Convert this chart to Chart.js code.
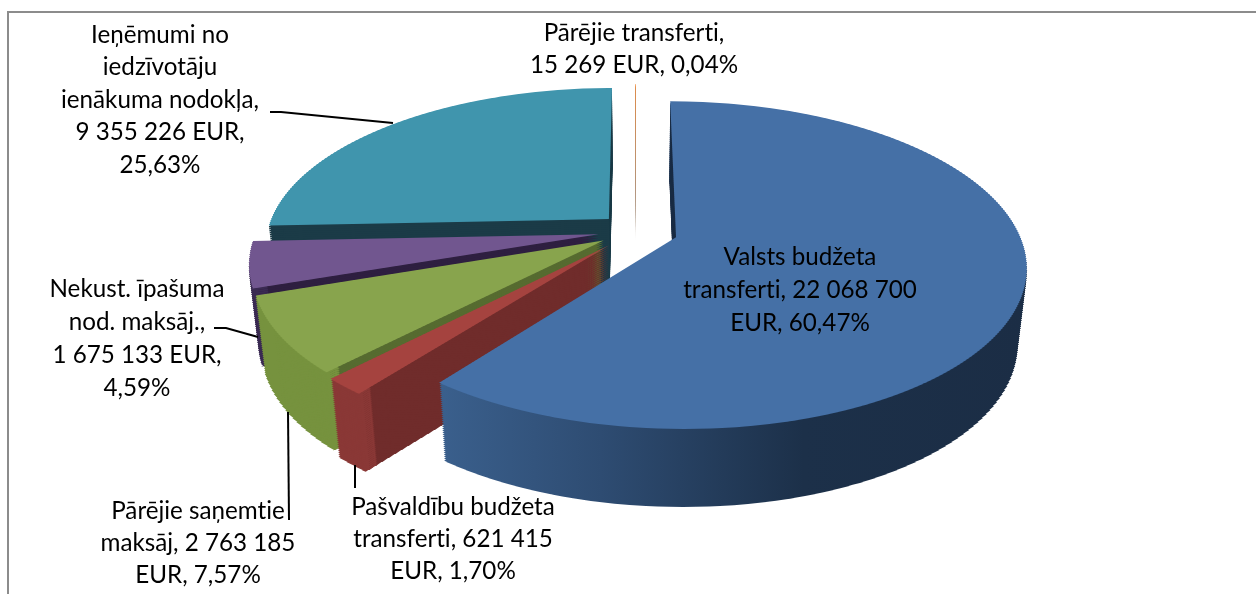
<!DOCTYPE html>
<html>
<head>
<meta charset="utf-8">
<style>
  html, body { margin: 0; background: #fff; }
  #wrap { position: relative; width: 1256px; height: 594px; overflow: hidden; }
  #frame { position: absolute; left: 7px; top: 11px; right: -4px; bottom: -4px; border: 2px solid #8c8c8c; }
  canvas { position: absolute; left: 0; top: 0; }
</style>
</head>
<body>
<div id="wrap">
  <div id="frame"></div>
  <canvas id="pie" width="1256" height="594"></canvas>
</div>
<script src="https://cdn.jsdelivr.net/npm/chart.js@4"></script>
<script>
const categories = ['Valsts budžeta transferti', 'Pašvaldību budžeta transferti', 'Pārējie saņemtie maksāj', 'Nekust. īpašuma nod. maksāj.', 'Ieņēmumi no iedzīvotāju ienākuma nodokļa', 'Pārējie transferti'];
const values = [22068700, 621415, 2763185, 1675133, 9355226, 15269];

const labelLines = [
  ['Valsts budžeta', 'transferti, 22 068 700', 'EUR, 60,47%'],
  ['Pašvaldību budžeta', 'transferti, 621 415', 'EUR, 1,70%'],
  ['Pārējie saņemtie', 'maksāj, 2 763 185', 'EUR, 7,57%'],
  ['Nekust. īpašuma', 'nod. maksāj.,', '1 675 133 EUR,', '4,59%'],
  ['Ieņēmumi no', 'iedzīvotāju', 'ienākuma nodokļa,', '9 355 226 EUR,', '25,63%'],
  ['Pārējie transferti,', '15 269 EUR, 0,04%']
];

const topColors = ['#4570a6', '#a5433f', '#88a44d', '#71568f', '#4095ad', '#ef8a3a'];
const cutColors = ['#1b2d45', '#702c2b', '#566b30', '#2e1f40', '#1b3b47', '#a89484'];
const rimColors = ['#1b2d45', '#8a3836', '#76923e', '#3a2a52', '#1b3b47', '#a89484'];

// label anchor: centre x, y of first line, and line pitch
const labelPos = [[800, 257, 33], [453, 507, 32], [198, 511, 32], [137, 289, 33], [160, 35, 32.5], [634, 33, 32]];
const leaders = [
  [[270, 112], [281, 112], [393, 123]],
  [[214, 328], [226, 328], [258, 337]],
  [[288, 412], [289, 520]],
  [[355, 465], [355, 488]]
];

// view settings for the tilted pie
const CX = 636, Y0 = 231, PERSP_A = 0.459, PERSP_B = -0.000494;
const RADIUS = 342, DEPTH = 78, BOTTOM_SHRINK = 0.025;
const EXPLODE = [42, 41, 38, 38, 38, 38];
const DRAW_ORDER = [4, 5, 3, 2, 1, 0];
const SLICE_DEPTH = { 5: 26 };

// side wall of the big slice goes from mid blue to near navy, in screen x
function blueRim(ctx, toFlat) {
  const g = ctx.createLinearGradient(toFlat(444), 0, toFlat(1024), 0);
  g.addColorStop(0, '#3a5f8c');
  g.addColorStop(0.27, '#2e4c72');
  g.addColorStop(0.62, '#1c3049');
  g.addColorStop(1, '#1b2d45');
  return g;
}

function sliceRange(arc, ov) {
  let lo = ov, hi = ov;
  for (let i = 0; i <= 24; i++) {
    const a = arc.startAngle + (arc.endAngle - arc.startAngle) * i / 24;
    const v = ov + Math.sin(a) * RADIUS;
    lo = Math.min(lo, v);
    hi = Math.max(hi, v);
  }
  return [lo, hi];
}

// draw one slice on one plane of the solid, in horizontal bands so the
// perspective of the flat library arc can be followed with plain transforms
function drawPlane(ctx, arc, f, explode, t, shift, stripH, fill) {
  const half = (arc.startAngle + arc.endAngle) / 2;
  const ou = Math.cos(half) * explode;
  const ov = Math.sin(half) * explode;
  const range = sliceRange(arc, ov);
  const toY = v => PERSP_A * v / (1 + PERSP_B * v);
  const y1 = Math.floor((Y0 + toY(range[0])) / stripH) * stripH - stripH;
  const y2 = Y0 + toY(range[1]) + stripH;
  const shrink = 1 - BOTTOM_SHRINK * t;
  const base = arc.options;
  for (let Y = y1; Y < y2; Y += stripH) {
    const y = Y + stripH / 2 - Y0;
    const den = PERSP_A - PERSP_B * y;
    const vm = y / den;
    const w = PERSP_A / den;
    const sx = shrink / w;
    const kv = PERSP_A / (w * w);
    if (fill) {
      const toFlat = X => arc.x + f * (X - CX - sx * ou) / sx;
      arc.options = Object.assign({}, base, { backgroundColor: fill(ctx, toFlat) });
    }
    ctx.save();
    ctx.beginPath();
    ctx.rect(0, Y + shift, 1256, stripH);
    ctx.clip();
    ctx.setTransform(sx / f, 0, 0, kv / f,
      CX + sx * ou - sx / f * arc.x,
      Y + stripH / 2 + shift + kv * (ov - vm) - kv / f * arc.y);
    arc.draw(ctx);
    ctx.restore();
  }
  arc.options = base;
}

const solidPie = {
  id: 'solidPie',
  beforeDatasetDraw(chart) {
    const ctx = chart.ctx;
    const arcs = chart.getDatasetMeta(0).data;
    DRAW_ORDER.forEach(i => {
      const arc = arcs[i];
      const outer = arc.outerRadius;
      const f = outer / RADIUS;
      const base = arc.options;
      const depth = SLICE_DEPTH[i] || DEPTH;
      const cut = Object.assign({}, base, { backgroundColor: cutColors[i] });
      const rim = Object.assign({}, base, { backgroundColor: rimColors[i] });
      for (let s = depth; s > 0; s -= 2) {
        const t = s / DEPTH;
        // wedge stays a little inside the rim band so its edge never fringes
        arc.options = cut;
        arc.outerRadius = outer - 4 * f;
        drawPlane(ctx, arc, f, EXPLODE[i], t, s, 4);
        arc.outerRadius = outer;
        arc.options = rim;
        arc.innerRadius = outer - 14 * f;
        drawPlane(ctx, arc, f, EXPLODE[i], t, s, 4, i === 0 ? blueRim : null);
        arc.innerRadius = 0;
      }
      arc.options = base;
      drawPlane(ctx, arc, f, EXPLODE[i], 0, 0, 2);
    });
    return false;
  },
  afterDraw(chart) {
    const ctx = chart.ctx;
    ctx.save();
    ctx.strokeStyle = '#000';
    ctx.lineWidth = 2;
    leaders.forEach(pts => {
      ctx.beginPath();
      pts.forEach((p, i) => i ? ctx.lineTo(p[0], p[1]) : ctx.moveTo(p[0], p[1]));
      ctx.stroke();
    });
    ctx.fillStyle = '#000';
    ctx.font = '24.2px Lato';
    ctx.textRendering = 'optimizeSpeed';
    ctx.textAlign = 'center';
    ctx.textBaseline = 'middle';
    labelLines.forEach((lines, i) => {
      const pos = labelPos[i];
      lines.forEach((line, n) => ctx.fillText(line, pos[0], pos[1] + n * pos[2]));
    });
    ctx.restore();
  }
};

new Chart(document.getElementById('pie'), {
  type: 'pie',
  data: {
    labels: categories,
    datasets: [{ data: values, backgroundColor: topColors, borderWidth: 0 }]
  },
  options: {
    responsive: false,
    animation: false,
    plugins: { legend: { display: false }, tooltip: { enabled: false } }
  },
  plugins: [solidPie]
});
</script>
</body>
</html>
